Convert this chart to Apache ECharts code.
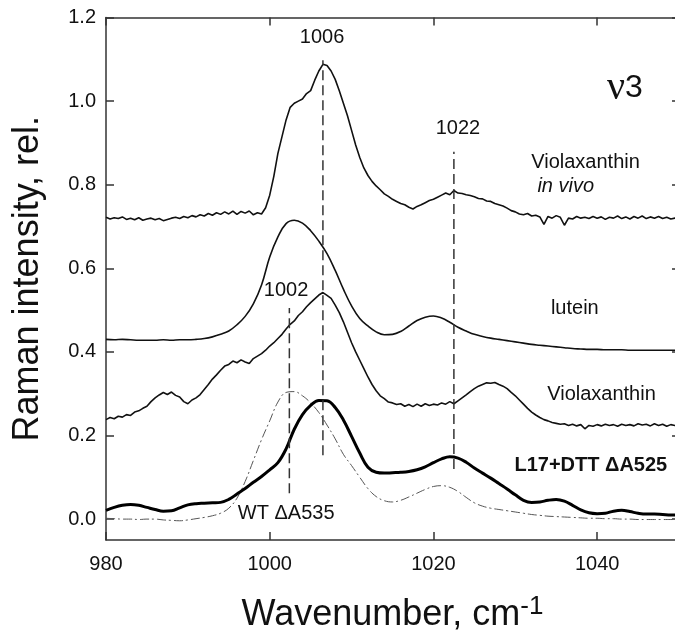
<!DOCTYPE html>
<html><head><meta charset="utf-8">
<script src="https://cdn.jsdelivr.net/npm/echarts@6/dist/echarts.min.js"></script>
<style>html,body{margin:0;padding:0;background:#fff}#c{width:675px;height:633px}</style>
</head><body><div id="c"></div>
<script>
// ---- data ----
const xStart = 980;
const noisyStep = 0.5;
const smoothStep = 1;
const xTicks = [980, 1000, 1020, 1040];
const yTicks = [0, 0.2, 0.4, 0.6, 0.8, 1.0, 1.2];

const violaxInVivo = [
 .722,.718,.721,.719,.723,.717,.720,.716,.721,.715,
 .718,.720,.716,.719,.714,.717,.720,.722,.719,.724,
 .721,.726,.723,.728,.725,.731,.727,.733,.729,.735,
 .730,.737,.729,.736,.732,.737,.728,.733,.730,.745,
 .775,.820,.875,.915,.955,.985,.995,1.000,1.005,1.018,
 1.025,1.050,1.072,1.088,1.085,1.072,1.052,1.025,.995,.965,
 .930,.895,.865,.840,.822,.808,.797,.788,.778,.772,
 .765,.760,.755,.752,.746,.742,.748,.752,.757,.762,
 .765,.770,.775,.780,.776,.786,.780,.779,.776,.774,
 .771,.767,.766,.761,.760,.755,.752,.749,.744,.738,
 .735,.730,.728,.731,.725,.727,.723,.705,.724,.720,
 .726,.722,.703,.720,.718,.724,.720,.722,.719,.724,
 .720,.723,.717,.722,.720,.725,.719,.723,.718,.724,
 .720,.725,.719,.723,.720,.724,.719,.722,.718,.720,
 .719
];
const violaxanthin = [
 .238,.243,.240,.246,.244,.250,.248,.256,.259,.265,
 .270,.281,.290,.297,.303,.298,.304,.296,.292,.281,
 .276,.285,.290,.298,.310,.322,.335,.345,.356,.366,
 .370,.378,.374,.381,.376,.372,.384,.390,.396,.404,
 .414,.422,.432,.442,.455,.466,.474,.487,.496,.508,
 .518,.527,.536,.542,.535,.528,.512,.494,.472,.447,
 .422,.400,.380,.360,.340,.322,.307,.295,.288,.280,
 .278,.274,.276,.270,.274,.269,.275,.270,.276,.272,
 .275,.273,.278,.275,.281,.276,.283,.290,.297,.305,
 .312,.318,.322,.326,.325,.327,.322,.318,.312,.303,
 .295,.285,.275,.265,.256,.249,.243,.238,.235,.231,
 .229,.227,.228,.224,.227,.223,.226,.216,.224,.222,
 .226,.223,.227,.224,.226,.222,.227,.224,.226,.223,
 .228,.225,.227,.223,.228,.224,.227,.222,.226,.224,
 .225
];
const lutein = [
 .430,.429,.430,.429,.428,.428,.428,.429,.428,.429,
 .429,.430,.432,.436,.442,.450,.465,.485,.515,.560,
 .627,.675,.707,.715,.708,.690,.665,.635,.595,.550,
 .510,.480,.462,.448,.441,.442,.449,.462,.475,.483,
 .486,.481,.471,.459,.450,.442,.437,.433,.430,.427,
 .424,.421,.418,.416,.414,.412,.410,.408,.407,.406,
 .406,.405,.405,.405,.404,.404,.404,.404,.404,.404,
 .404
];
const l17dtt = [
 .021,.028,.033,.035,.033,.028,.023,.019,.020,.027,
 .034,.037,.038,.039,.040,.047,.060,.073,.088,.102,
 .118,.135,.168,.215,.250,.272,.284,.283,.267,.237,
 .198,.158,.124,.112,.110,.111,.112,.114,.118,.125,
 .135,.144,.149,.146,.136,.122,.110,.098,.085,.072,
 .058,.045,.040,.041,.045,.047,.043,.033,.022,.015,
 .013,.014,.019,.021,.018,.014,.012,.012,.011,.010,
 .010
];
const wtA535 = [
 .002,.001,0,0,-.001,0,0,-.002,-.003,-.004,
 -.002,.001,.004,.008,.014,.026,.050,.090,.140,.190,
 .235,.280,.303,.305,.295,.278,.255,.225,.192,.155,
 .128,.100,.073,.054,.044,.041,.045,.053,.062,.071,
 .078,.080,.076,.066,.052,.039,.031,.026,.023,.020,
 .017,.014,.011,.009,.007,.006,.005,.004,.003,.002,
 .002,.001,.001,0,0,-.001,-.001,-.001,-.001,-.001,
 -.001
];
const peakLineX = [1006.5, 1002.4, 1022.5];
const peakLineBottom = [0.153, 0.062, 0.12];
const peakLineTop = [1.098, 0.505, 0.879];
const peakLabelText = ['1006', '1002', '1022'];
const peakLabelPos = [[1006.4, 1.152], [1002.0, 0.547], [1023.0, 0.935]];
const curveLabelText = ['Violaxanthin', 'in vivo', 'lutein', 'Violaxanthin', 'L17+DTT \u0394A525', 'WT \u0394A535'];
const curveLabelPos = [[1031.95, 0.852], [1032.7, 0.797], [1034.35, 0.505], [1033.9, 0.297], [1029.9, 0.129], [996.1, 0.0144]];
const modeLabelPos = [1041.2, 1.03];

// ---- chart ----
const FONT = '"Liberation Sans", Arial, sans-serif';
const TXT = '#111';
const AX = '#333';
const pairs = (arr, step) => arr.map((v, i) => [xStart + i * step, v]);

const chart = echarts.init(document.getElementById('c'), null, {renderer: 'canvas'});

const peakSeries = peakLineX.map((x, i) => ({
  type: 'line', data: [[x, peakLineBottom[i]], [x, peakLineTop[i]]],
  showSymbol: false, silent: true,
  lineStyle: {color: '#333', width: 1.5, type: [10, 5]}
}));

const labelData = [];
peakLabelText.forEach((t, i) => labelData.push({value: peakLabelPos[i], label: {formatter: t, align: 'center'}}));
curveLabelText.forEach((t, i) => {
  const lab = {formatter: t, align: 'left'};
  if (i === 1) lab.fontStyle = 'italic';
  if (i === 4) lab.fontWeight = 'bold';
  labelData.push({value: curveLabelPos[i], label: lab});
});
labelData.push({value: modeLabelPos, label: {formatter: '{n|\u03bd}{d|3}', align: 'left',
  rich: {n: {fontFamily: '"Liberation Serif", "DejaVu Serif", serif', fontSize: 40, color: TXT},
         d: {fontFamily: FONT, fontSize: 32, color: TXT}}}});

chart.setOption({
  animation: false,
  backgroundColor: '#fff',
  grid: {left: 106, top: 17.5, right: -4, bottom: 93, containLabel: false, outerBoundsMode: 'none'},
  xAxis: [
    {type: 'value', min: 980, max: 1050, position: 'bottom',
     axisLine: {show: true, onZero: false, lineStyle: {color: AX, width: 1.5}},
     axisTick: {show: true, inside: true, length: 8, customValues: xTicks, lineStyle: {color: AX, width: 1.5}},
     axisLabel: {show: true, customValues: xTicks, margin: 14, fontSize: 20, color: TXT, fontFamily: FONT,
                 formatter: v => String(v)},
     splitLine: {show: false},
     name: '{a|Wavenumber, cm}{s|-1}', nameLocation: 'middle', nameGap: 54,
     nameTextStyle: {fontFamily: FONT, color: TXT, fontSize: 36,
       rich: {a: {fontSize: 36, fontFamily: FONT, color: TXT, lineHeight: 42},
              s: {fontSize: 26, fontFamily: FONT, color: TXT, verticalAlign: 'top', lineHeight: 42}}}},
    {type: 'value', min: 980, max: 1050, position: 'top',
     axisLine: {show: true, onZero: false, lineStyle: {color: AX, width: 1.5}},
     axisTick: {show: true, inside: true, length: 8, customValues: xTicks, lineStyle: {color: AX, width: 1.5}},
     axisLabel: {show: false}, splitLine: {show: false}}
  ],
  yAxis: [
    {type: 'value', min: -0.05, max: 1.2, position: 'left',
     axisLine: {show: true, onZero: false, lineStyle: {color: AX, width: 1.5}},
     axisTick: {show: true, inside: true, length: 8, customValues: yTicks, lineStyle: {color: AX, width: 1.5}},
     axisLabel: {show: true, customValues: yTicks, margin: 10, fontSize: 20, color: TXT, fontFamily: FONT,
                 formatter: v => Number(v).toFixed(1)},
     splitLine: {show: false},
     name: 'Raman intensity, rel.', nameLocation: 'middle', nameGap: 60, nameRotate: 90,
     nameTextStyle: {fontFamily: FONT, color: TXT, fontSize: 36}},
    {type: 'value', min: -0.05, max: 1.2, position: 'right',
     axisLine: {show: true, onZero: false, lineStyle: {color: AX, width: 1.5}},
     axisTick: {show: true, inside: true, length: 7, customValues: yTicks, lineStyle: {color: AX, width: 1.5}},
     axisLabel: {show: false}, splitLine: {show: false}}
  ],
  series: [
    {type: 'line', name: 'Violaxanthin in vivo', data: pairs(violaxInVivo, noisyStep), showSymbol: false,
     lineStyle: {color: '#111', width: 1.6}},
    {type: 'line', name: 'lutein', data: pairs(lutein, smoothStep), showSymbol: false, smooth: 0.4,
     lineStyle: {color: '#111', width: 1.6}},
    {type: 'line', name: 'Violaxanthin', data: pairs(violaxanthin, noisyStep), showSymbol: false,
     lineStyle: {color: '#111', width: 1.6}},
    {type: 'line', name: 'WT dA535', data: pairs(wtA535, smoothStep), showSymbol: false, smooth: 0.4,
     lineStyle: {color: '#555', width: 1, type: [9, 3, 2, 3]}},
    {type: 'line', name: 'L17+DTT dA525', data: pairs(l17dtt, smoothStep), showSymbol: false, smooth: 0.4,
     lineStyle: {color: '#000', width: 3}},
    ...peakSeries,
    {type: 'scatter', data: labelData, symbolSize: 0, silent: true, z: 10,
     itemStyle: {opacity: 1},
     label: {show: true, position: [0, 0], verticalAlign: 'middle', fontSize: 20, fontFamily: FONT, color: TXT}}
  ]
});
</script></body></html>
